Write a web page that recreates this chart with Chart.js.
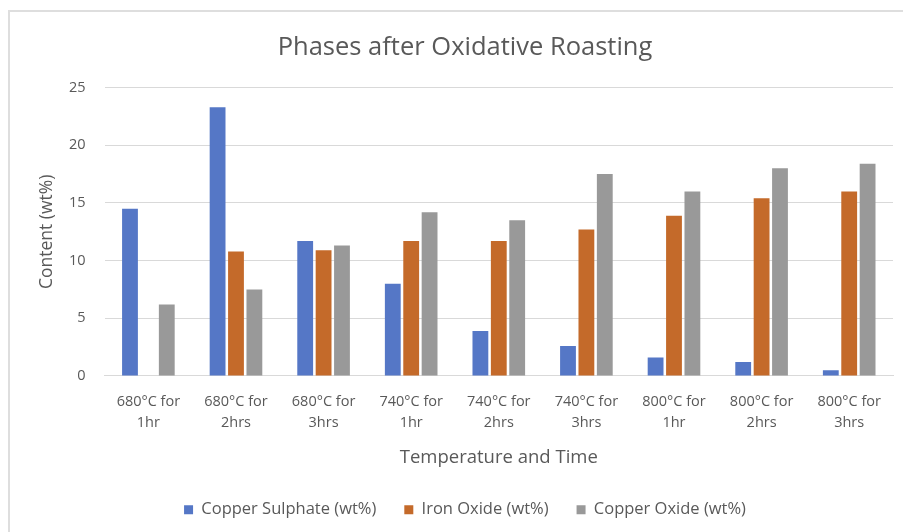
<!DOCTYPE html>
<html>
<head>
<meta charset="utf-8">
<script src="https://cdn.jsdelivr.net/npm/chart.js@4"></script>
<style>
  html, body { margin: 0; padding: 0; background: #fff; }
  #wrap { position: relative; width: 903px; height: 532px; }
  #frame {
    position: absolute; left: 8px; top: 10px; right: 0; bottom: 0;
    border-left: 2px solid #dedede; border-top: 2px solid #dedede;
    pointer-events: none;
  }
</style>
</head>
<body>
<div id="wrap">
  <canvas id="phasesChart" width="903" height="532"></canvas>
  <div id="frame"></div>
</div>
<script>
  // values
  const conditions = [
    ['680°C for', '1hr'], ['680°C for', '2hrs'], ['680°C for', '3hrs'],
    ['740°C for', '1hr'], ['740°C for', '2hrs'], ['740°C for', '3hrs'],
    ['800°C for', '1hr'], ['800°C for', '2hrs'], ['800°C for', '3hrs']
  ];
  const copperSulphate = [14.5, 23.3, 11.7, 8.0, 3.9, 2.6, 1.6, 1.2, 0.5];
  const ironOxide = [null, 10.8, 10.9, 11.7, 11.7, 12.7, 13.9, 15.4, 16.0];
  const copperOxide = [6.2, 7.5, 11.3, 14.2, 13.5, 17.5, 16.0, 18.0, 18.4];
  const yTicks = [0, 5, 10, 15, 20, 25];

  const textColor = '#595959';
  const fontFamily = "'Open Sans', sans-serif";

  new Chart(document.getElementById('phasesChart'), {
    type: 'bar',
    data: {
      labels: conditions,
      datasets: [
        { label: 'Copper Sulphate (wt%)', data: copperSulphate, backgroundColor: '#5577c6' },
        { label: 'Iron Oxide (wt%)', data: ironOxide, backgroundColor: '#c46a2a' },
        { label: 'Copper Oxide (wt%)', data: copperOxide, backgroundColor: '#999999' }
      ]
    },
    options: {
      responsive: false,
      animation: false,
      categoryPercentage: 0.63,
      barPercentage: 0.86,
      layout: { padding: { left: 37, right: 10, bottom: 4 } },
      plugins: {
        title: {
          display: true,
          text: 'Phases after Oxidative Roasting',
          color: textColor,
          font: { family: fontFamily, size: 25.5, weight: 'normal' },
          padding: { top: 32, bottom: 25 }
        },
        legend: {
          position: 'bottom',
          labels: {
            color: textColor,
            boxWidth: 9,
            boxHeight: 9,
            padding: 28,
            font: { family: fontFamily, size: 16.5 }
          }
        },
        tooltip: { enabled: false }
      },
      scales: {
        x: {
          grid: { display: false, drawTicks: false },
          border: { display: true, color: '#d9d9d9' },
          ticks: {
            color: textColor,
            padding: 15,
            maxRotation: 0,
            autoSkip: false,
            font: { family: fontFamily, size: 14.5, lineHeight: 1.45 }
          },
          title: {
            display: true,
            text: 'Temperature and Time',
            color: textColor,
            font: { family: fontFamily, size: 18.5, lineHeight: 1 },
            padding: { top: 0, bottom: 7 }
          }
        },
        y: {
          min: 0,
          max: 25,
          afterBuildTicks: axis => { axis.ticks = yTicks.map(v => ({ value: v })); },
          grid: { color: '#d9d9d9', drawTicks: false },
          border: { display: false },
          ticks: {
            color: textColor,
            padding: 19,
            font: { family: fontFamily, size: 14.5 }
          },
          title: {
            display: true,
            text: 'Content (wt%)',
            color: textColor,
            font: { family: fontFamily, size: 17.5 },
            padding: { top: 0, bottom: -8 }
          }
        }
      }
    }
  });
</script>
</body>
</html>
